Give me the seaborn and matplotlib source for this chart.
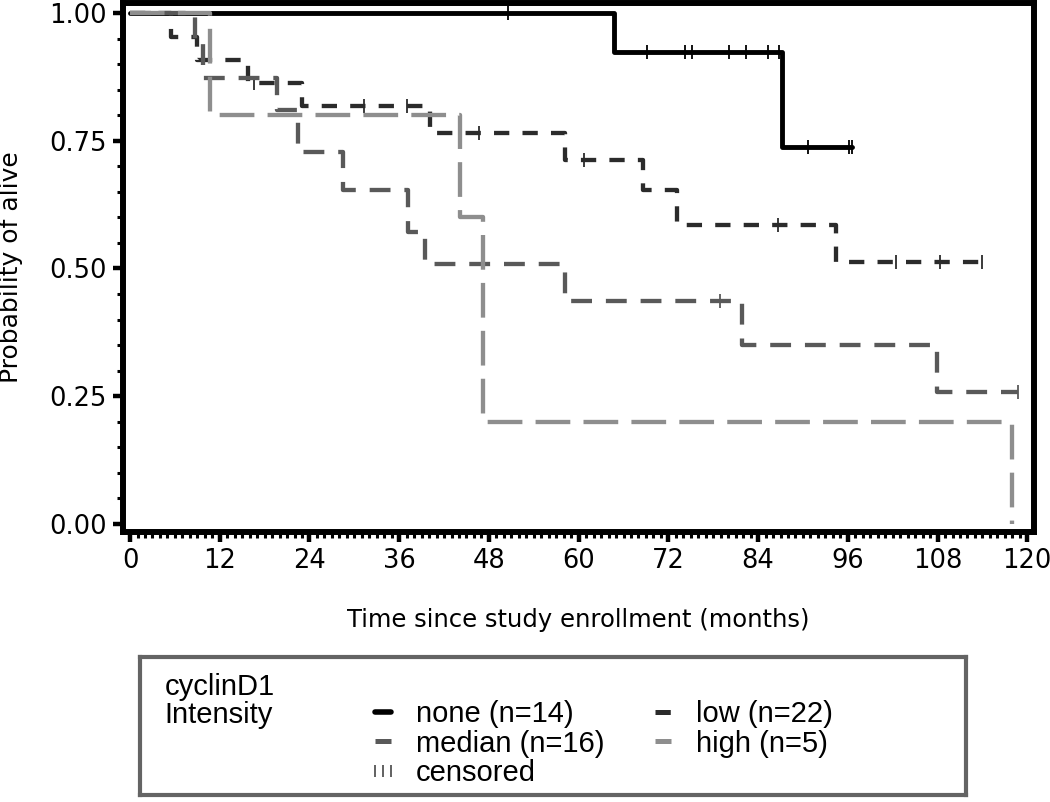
import numpy as np
import matplotlib.pyplot as plt
import matplotlib.ticker as mticker
from matplotlib.lines import Line2D
import seaborn as sns

# Kaplan-Meier steps: step times (months) and survival after each step
groups = ["none", "low", "median", "high"]
labels = ["none (n=14)", "low (n=22)", "median (n=16)", "high (n=5)"]

none_t = [0, 64.7, 87.2, 96.6]
none_s = [1.0, 0.923, 0.738, 0.738]
none_cens = [50.6, 69.2, 74.2, 75.1, 80.1, 82.4, 85.3, 86.8, 90.7, 96.1, 96.5]

low_t = [0, 5.5, 9.0, 15.8, 23.0, 40.1, 58.2, 68.6, 73.2, 94.4, 113.9]
low_s = [1.0, 0.953, 0.908, 0.863, 0.818, 0.765, 0.712, 0.654, 0.585, 0.513, 0.513]
low_cens = [16.6, 31.3, 37.0, 46.7, 60.7, 86.7, 102.5, 108.3, 113.9]

median_t = [0, 8.7, 9.8, 19.7, 22.5, 28.5, 37.2, 39.5, 58.2, 81.8, 107.9, 118.8]
median_s = [1.0, 0.940, 0.873, 0.810, 0.728, 0.654, 0.571, 0.509, 0.437, 0.350, 0.259, 0.259]
median_cens = [78.9, 118.8]

high_t = [0, 10.7, 44.1, 47.2, 118.0]
high_s = [1.0, 0.80, 0.60, 0.20, 0.0]
high_cens = []

x_ticks = list(range(0, 121, 12))
y_ticks = [0.0, 0.25, 0.5, 0.75, 1.0]

sns.set_theme(style="ticks")
plt.rcParams["font.family"] = ["DejaVu Sans"]
plt.rcParams["lines.scale_dashes"] = False
plt.rcParams["text.color"] = "black"
plt.rcParams["axes.labelcolor"] = "black"
plt.rcParams["xtick.color"] = "black"
plt.rcParams["ytick.color"] = "black"

colors = {"none": "#000000", "low": "#2b2b2b", "median": "#595959", "high": "#8e8e8e"}
widths = {"none": 3.5, "low": 3.1, "median": 3.1, "high": 3.1}
lstyles = {"none": "-", "low": (0, (11, 9.5)), "median": (0, (15, 10)), "high": (0, (25, 9.5))}

data = {
    "none": (none_t, none_s, none_cens),
    "low": (low_t, low_s, low_cens),
    "median": (median_t, median_s, median_cens),
    "high": (high_t, high_s, high_cens),
}

fig = plt.figure(figsize=(10.5, 8.02), dpi=100)
ax = fig.add_axes([123 / 1050, 1 - 532 / 802, 911 / 1050, 529 / 802])

for g in groups:
    t, s, cens = data[g]
    sns.lineplot(x=t, y=s, drawstyle="steps-post", estimator=None, sort=False,
                 color=colors[g], linewidth=widths[g], linestyle=lstyles[g], ax=ax)
    if cens:
        t_arr, s_arr = np.array(t), np.array(s)
        cy = s_arr[np.searchsorted(t_arr, cens, side="right") - 1]
        ax.plot(cens, cy, ls="none", marker="|", ms=9.5, mew=1.3, color=colors[g])

ax.set_xlim(-0.94, 120.9)
ax.set_ylim(-0.0157, 1.0196)
ax.set_xticks(x_ticks)
ax.set_yticks(y_ticks)
ax.yaxis.set_major_formatter(mticker.FormatStrFormatter("%.2f"))
ax.xaxis.set_minor_locator(mticker.MultipleLocator(1))
ax.yaxis.set_minor_locator(mticker.MultipleLocator(0.05))
ax.tick_params(which="major", length=7.5, width=3.2, labelsize=18.5, pad=4, direction="out")
ax.tick_params(which="minor", length=4.5, width=2.2, direction="out")
for sp in ax.spines.values():
    sp.set_visible(True)
    sp.set_linewidth(4.3)
    sp.set_color("black")

ax.set_xlabel("Time since study enrollment (months)", fontsize=17.5)
ax.set_ylabel("Probability of alive", fontsize=18)
ax.xaxis.set_label_coords(0.5, -0.143)
ax.yaxis.set_label_coords(-0.11, 0.5)

# legend box below the plot
lax = fig.add_axes([140 / 1050, 1 - 795 / 802, 826 / 1050, 138 / 802])
lax.set_xticks([])
lax.set_yticks([])
for sp in lax.spines.values():
    sp.set_linewidth(3)
    sp.set_color("#646464")

leg_font = {"family": ["Liberation Sans", "DejaVu Sans"], "size": 21}
lax.text(0.03, 0.885, "cyclinD1\nIntensity", transform=lax.transAxes, va="top", ha="left",
         linespacing=1.0, fontdict=leg_font)

handles = {g: Line2D([], [], color=colors[g], lw=widths[g] + 0.5, ls=lstyles[g]) for g in groups}
cens_handle = Line2D([], [], ls="none", marker="|", ms=9, mew=1.3, color="#555555")
order = [handles["none"], handles["median"], cens_handle, handles["low"], handles["high"]]
order_labels = [labels[0], labels[2], "censored", labels[1], labels[3]]
lax.legend(order, order_labels, loc="upper left", bbox_to_anchor=(0.274, 0.69), ncol=2,
           frameon=False, prop=leg_font, handlelength=1.15, handletextpad=0.55,
           columnspacing=1.45, labelspacing=0.06, borderpad=0, borderaxespad=0, numpoints=3)

fig.savefig("out.png", dpi=100)
